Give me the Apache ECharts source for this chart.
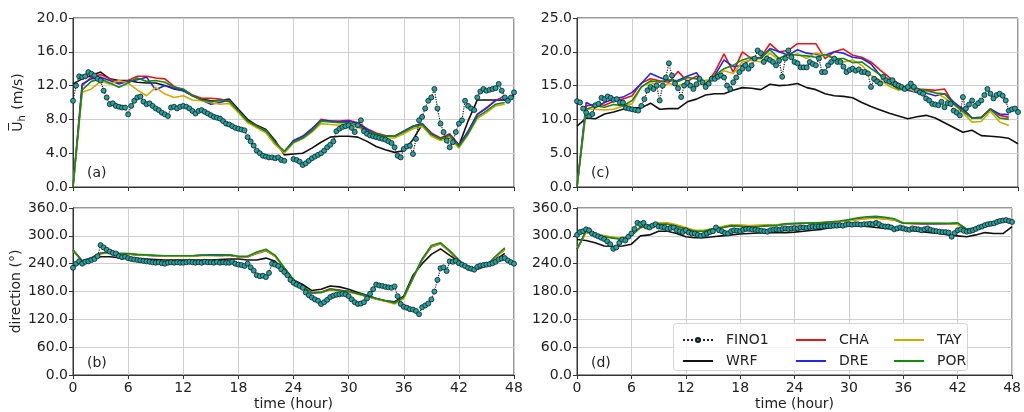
<!DOCTYPE html>
<html>
<head>
<meta charset="utf-8">
<script src="https://cdn.jsdelivr.net/npm/echarts@6/dist/echarts.min.js"></script>
<style>
  html, body { margin: 0; padding: 0; background: #fff; }
  #chart { width: 1024px; height: 412px; }
</style>
</head>
<body>
<div id="chart"></div>
<script>
// FINO1 measurements, every 20 min (3 per hour), 0..48 h
var finoSpeedA = [
  10.2, 12.0, 13.1,  13.0, 13.1, 13.6,  13.4, 13.2, 12.8,  12.6, 11.4, 10.6,
  9.8, 9.9, 9.6,  9.5, 9.4, 9.4,  8.6, 9.6, 10.2,  10.6, 10.7, 10.1,
  9.8, 9.9, 9.6,  9.3, 9.1, 8.8,  8.6, 8.4, 9.4,  9.5, 9.3, 9.5,
  9.6, 9.5, 9.3,  9.0, 8.7, 9.0,  9.1, 8.9, 8.7,  8.5, 8.3, 8.2,
  8.1, 7.8, 7.5,  7.4, 7.2, 7.0,  6.9, 6.8, 6.7,  5.9, 5.4, 4.9,
  4.3, 4.0, 3.7,  3.6, 3.5, 3.5,  3.4, 3.5, 3.2,  3.1, null, null,
  3.3, 3.2, 3.0,  2.6, 2.8, 3.1,  3.4, 3.6, 3.8,  4.0, 4.3, 4.7,
  5.0, 5.4, 6.6,  6.9, 7.1, 7.2,  7.3, 7.0, 6.5,  7.3, 7.9, 6.6,
  6.3, 6.1, 6.0,  5.9, 5.8, 5.7,  5.6, 5.4, 5.2,  4.7, 3.7, 3.5,
  4.5, 4.8, 4.9,  3.9, 5.7, 7.9,  8.3, 9.3, 10.2,  10.6, 11.6, 9.3,
  7.5, 6.5, 5.5,  4.7, 5.3, 6.5,  7.5, 7.9, 10.2,  9.6, 9.3, 9.1,
  10.6, 11.3, 11.6,  11.4, 11.5, 11.6,  11.7, 12.2, 11.4,  10.6, 10.2, 10.6,
  11.2
];
var finoDirB = [
  231, 240, 245,  240, 244, 245,  248, 250, 256,  280, 275, 270,
  266, 263, 262,  256, 254, 255,  252, 250, 249,  248, 247, 246,
  245, 244, 243,  242, 243, 241,  240, 242, 243,  242, 243, 242,
  242, 243, 244,  243, 242, 243,  242, 244, 243,  243, 242, 244,
  242, 243, 242,  242, 244, 240,  238, 237, 235,  240, 232, 225,
  215, 213, 214,  211, 220, 240,  238, 235, 228,  222, 215, 205,
  199, 195, 192,  188, 178, 172,  167, 163, 160,  153, 157, 162,
  168, 171, 173,  174, 175, 174,  170, 163, 157,  153, 154, 157,
  165, 175, 185,  195, 193, 192,  190, 189, 188,  191, 170, 153,
  147, 145, 142,  141, 138, 131,  146, 150, 154,  163, 180, 205,
  230, 232, 224,  245, 244, 246,  241, 238, 235,  231, 229, 227,
  233, 236, 237,  238, 239, 241,  244, 249, 251,  252, 247, 243,
  240
];
var finoSpeedC = [
  12.7, 12.5, 11.6,  11.0, 10.5, 10.8,  12.1, 12.3, 13.2,  13.0, 13.4, 13.2,
  12.9, 13.0, 12.5,  12.5, 11.7, 11.6,  11.5, 11.4, 11.3,  12.0, 13.0, 14.3,
  14.8, 14.5, 15.0,  12.8, 15.0, 16.2,  18.3, 16.5, 15.3,  14.6, 13.3, 15.0,
  15.4, 15.0, 14.5,  15.2, 16.0, 15.5,  14.8, 15.3, 16.0,  16.0, 16.3, 16.5,
  16.2, 15.0, 14.5,  15.5, 16.2, 17.0,  17.5, 18.0, 17.5,  18.0, 19.0, 20.2,
  19.8, 18.5, 19.0,  18.8, 18.5, 18.0,  18.7, 16.3, 19.0,  20.2, 19.2, 18.5,
  18.3, 17.7, 17.7,  17.7, 18.5, 18.2,  18.0, 19.0, 17.0,  17.0, 18.0, 18.5,
  19.0, 18.5, 18.5,  17.8, 17.0, 17.3,  17.5, 17.2, 17.4,  17.0, 17.0, 16.8,
  14.8, 16.0, 15.6,  15.3, 16.3, 15.8,  15.6, 15.8, 15.2,  15.0, 14.8, 14.5,
  14.8, 15.3, 14.8,  14.3, 14.0, 13.8,  13.1, 12.8, 12.3,  12.2, 12.1, 12.6,
  11.8, 12.4, 12.3,  11.3, 11.0, 10.6,  13.3, 11.6, 12.2,  12.8, 12.0, 12.4,
  12.8, 13.6, 14.5,  13.8, 13.1, 13.6,  13.8, 13.5, 12.8,  11.3, 11.5, 11.6,
  11.1
];
var finoDirD = [
  302, 308, 310,  314, 312, 305,  302, 299, 296,  293, 288, 282,
  272, 275, 285,  292, 290, 298,  305, 315, 328,  325, 328, 320,
  318, 322, 325,  320, 319, 318,  315, 317, 318,  312, 310, 308,
  312, 307, 305,  305, 302, 300,  302, 305, 308,  310, 318, 312,
  310, 306, 305,  310, 312, 311,  310, 313, 315,  315, 314, 313,
  312, 311, 310,  309, 312, 313,  314, 313, 315,  316, 315, 316,
  317, 316, 318,  318, 317, 319,  320, 319, 320,  320, 321, 321,
  321, 322, 322,  323, 322, 324,  325, 324, 325,  325, 324, 325,
  325, 326, 325,  328, 325, 321,  320, 320, 318,  314, 316, 318,
  316, 314, 313,  316, 315, 314,  312, 314, 316,  313, 311, 310,
  309, 308, 308,  307, 298, 306,  312, 314, 311,  309, 310, 312,
  315, 318, 320,  323, 325, 326,  327, 330, 332,  333, 334, 332,
  330
];

// model output, hourly from 0 h
var wrfA = [12.2,12.8,13.2,13.6,12.8,12.6,12.6,12.4,12.3,12.3,12.0,11.6,11.4,10.8,10.4,10.2,10.2,10.4,9.2,8.0,7.3,6.8,5.5,3.8,3.9,4.0,4.6,5.3,5.9,6.0,6.0,5.9,5.4,4.8,4.4,4.1,4.3,5.6,7.4,6.3,5.6,5.8,4.9,7.8,10.3,10.3,10.3,10.3,10.8];
var chaA = [0,12.0,13.0,13.3,12.8,12.3,12.6,13.1,13.1,12.9,12.8,11.9,11.5,10.9,10.5,10.5,10.4,10.1,8.9,7.8,7.2,6.6,5.2,4.2,5.4,6.0,6.8,8.0,7.8,7.8,7.9,7.6,6.9,6.4,6.1,6.0,6.6,7.2,7.5,6.4,5.8,6.3,5.0,6.5,8.6,9.4,10.2,10.8];
var dreA = [0,12.2,12.8,13.0,12.6,12.2,12.5,12.7,13.0,11.5,12.0,11.7,11.4,10.8,10.3,9.8,10.0,10.3,9.0,7.8,7.1,6.5,5.1,4.2,5.5,6.0,6.9,7.9,7.8,7.7,7.8,7.5,6.8,6.3,6.0,6.0,6.6,7.2,7.5,6.3,5.7,6.2,4.9,6.6,8.6,9.3,10.3,10.3];
var tayA = [0,11.2,11.6,12.5,12.2,12.6,12.3,11.5,10.8,11.8,11.0,10.6,10.8,10.3,10.2,10.0,9.8,9.9,8.8,7.6,7.0,6.4,5.0,4.0,5.2,5.7,6.5,7.5,7.4,7.3,7.4,7.1,6.4,6.1,5.8,5.8,6.3,6.9,7.2,6.0,5.5,5.9,4.6,6.2,8.1,8.8,9.6,9.8];
var porA = [0,11.5,12.5,12.8,12.3,11.8,12.3,12.9,12.5,12.6,12.4,11.8,11.6,10.8,10.3,10.1,10.3,10.2,9.0,7.8,7.2,6.7,5.3,4.2,5.3,5.8,6.6,7.8,7.7,7.6,7.6,7.3,6.6,6.3,6.0,6.0,6.5,7.1,7.4,6.2,5.7,6.1,4.8,6.3,8.3,9.0,9.8,10.0];

var wrfB = [232,245,250,255,255,253,252,251,250,249,248,248,248,248,248,248,249,250,250,248,248,252,245,225,205,195,182,185,192,190,185,178,172,165,160,158,170,215,240,260,272,258,245,232,228,235,248,262];
var chaB = [268,246,253,263,264,262,261,259,258,257,256,256,256,257,258,258,257,258,255,255,262,268,256,230,205,189,177,179,186,183,180,175,170,164,159,156,167,208,248,276,283,266,246,227,231,236,254,271];
var dreB = [269,246,252,262,265,262,261,259,258,257,257,256,257,257,258,259,259,259,255,255,263,269,257,230,205,190,177,178,184,182,180,175,170,165,160,156,168,209,249,277,284,267,247,228,231,235,255,272];
var tayB = [268,245,251,261,264,262,261,259,258,257,256,256,256,256,257,257,257,258,255,255,263,269,256,230,204,189,178,178,184,181,179,174,169,164,159,153,165,209,249,277,283,266,246,227,230,235,254,271];
var porB = [270,245,252,262,265,263,262,260,259,258,257,257,257,257,258,258,258,259,256,256,265,271,258,231,206,190,178,178,185,182,180,175,170,165,160,155,168,210,250,279,285,268,248,228,232,236,256,274];

var wrfC = [9.0,10.2,10.1,10.8,11.1,11.5,11.7,11.7,12.4,11.5,11.6,11.6,12.6,13.0,13.6,13.8,13.8,14.3,14.7,14.6,14.4,15.2,15.0,15.1,15.3,14.7,14.4,13.8,13.5,13.4,13.2,12.5,11.9,11.4,10.9,10.5,10.1,10.4,10.6,10.2,9.5,8.8,8.1,8.4,7.6,7.5,7.4,7.2,6.4];
var chaC = [0,12.0,12.2,12.1,12.7,13.0,13.5,15.4,16.0,15.7,15.5,17.1,15.6,16.4,15.2,17.0,19.7,17.0,20.0,19.0,19.2,21.2,20.0,20.2,21.2,21.2,21.2,19.0,20.0,20.4,19.5,19.2,18.5,17.3,16.2,15.3,14.5,14.5,14.4,14.3,14.5,12.3,11.6,10.2,10.3,11.6,10.6,10.3];
var dreC = [0,12.5,11.8,12.5,13.0,13.3,14.0,15.3,16.8,16.2,15.7,15.8,16.4,16.9,15.0,16.5,18.8,17.8,18.0,19.0,19.0,20.5,20.0,19.5,20.3,19.8,19.6,19.5,20.0,19.8,19.2,19.0,18.2,16.5,15.5,14.5,14.3,14.0,13.9,13.5,13.8,12.6,11.5,10.2,10.3,11.5,10.8,10.7];
var tayC = [0,11.5,11.5,11.4,11.5,12.0,12.3,14.8,15.5,14.8,15.3,15.0,15.4,14.8,15.8,16.0,17.2,16.8,18.5,18.8,18.5,19.8,18.7,19.2,19.7,19.0,19.8,19.5,19.0,18.5,18.8,18.0,16.5,15.8,14.9,14.3,14.6,14.0,14.2,14.0,13.2,12.2,11.0,9.6,9.7,11.2,9.6,9.1];
var porC = [0,11.5,12.0,11.8,12.2,12.0,12.8,14.8,15.7,15.5,15.9,15.6,16.2,16.0,15.3,16.5,17.5,18.0,18.8,19.2,19.0,20.3,19.0,19.7,19.5,19.4,19.2,19.6,19.0,19.0,18.4,18.5,17.5,16.6,15.3,14.5,14.8,14.4,14.3,13.9,13.8,12.3,11.2,10.2,10.2,11.5,10.2,10.0];

var wrfD = [292,290,285,278,277,278,282,300,302,310,310,305,298,296,296,298,300,302,304,305,306,307,307,307,308,310,312,314,318,321,323,322,320,318,316,315,313,311,309,307,305,302,300,298,302,307,305,305,320];
var chaD = [272,308,302,300,296,294,302,318,323,326,326,321,316,311,311,315,318,321,321,320,321,323,323,325,326,327,328,328,330,331,333,336,338,338,337,334,327,326,326,326,326,326,325,314,316,320,326,333];
var dreD = [271,309,301,299,296,293,301,319,322,326,326,321,316,311,310,315,319,322,321,319,320,322,323,325,326,327,327,328,329,331,333,336,338,339,337,335,327,327,326,326,326,326,326,315,316,320,326,333];
var tayD = [273,307,303,300,297,295,303,317,324,328,328,324,318,312,312,316,320,324,324,322,323,324,324,326,326,327,328,329,330,331,333,335,337,338,336,334,328,328,327,327,327,326,325,314,317,321,326,332];
var porD = [270,312,300,298,295,292,300,318,322,325,325,320,315,310,310,315,318,322,320,318,320,322,322,326,327,327,328,328,330,332,335,339,341,342,340,337,327,327,327,327,327,327,328,314,316,320,327,334];

var hourTicks = ['0', '6', '12', '18', '24', '30', '36', '42', '48'];
var panelLabels = ['(a)', '(b)', '(c)', '(d)'];

var colors = { FINO1: '#1fa3a3', WRF: '#111111', CHA: '#e8141a', DRE: '#2626e8', TAY: '#d2aa00', POR: '#138a13' };

function pairs(vals, step) {
    return vals.map(function (v, i) { return [i * step, v]; });
}

var myChart = echarts.init(document.getElementById('chart'));

var boxes = [
    { left: 73, top: 18 },
    { left: 73, top: 208 },
    { left: 577, top: 18 },
    { left: 577, top: 208 }
];
var grids = boxes.map(function (b) {
    return {
        left: b.left, top: b.top, width: 441, height: 169,
        show: true, borderColor: '#333', borderWidth: 1, backgroundColor: 'transparent'
    };
});

var fmt = function (v) { return v.toFixed(1); };
var labelStyle = { fontFamily: 'DejaVu Sans', fontSize: 14, color: '#222' };

var xAxes = [0, 1, 2, 3].map(function (i) {
    var bottom = (i === 1 || i === 3);
    return {
        type: 'value', gridIndex: i, min: 0, max: 48, interval: 6,
        name: bottom ? 'time (hour)' : '',
        nameLocation: 'middle', nameGap: 22,
        nameTextStyle: labelStyle,
        axisLine: { show: true, lineStyle: { color: '#333', width: 1 } },
        axisTick: { show: true, length: 4, lineStyle: { color: '#333' } },
        axisLabel: {
            show: bottom, margin: 6, fontFamily: 'DejaVu Sans', fontSize: 14, color: '#222',
            formatter: function (v) { return hourTicks[v / 6]; }
        },
        splitLine: { show: true, lineStyle: { color: '#cfcfcf', width: 1 } }
    };
});

var yRanges = [[20, 4], [360, 60], [25, 5], [360, 60]];
var yAxes = [0, 1, 2, 3].map(function (i) {
    var ax = {
        type: 'value', gridIndex: i, min: 0, max: yRanges[i][0], interval: yRanges[i][1],
        axisLine: { show: true, lineStyle: { color: '#333', width: 1 } },
        axisTick: { show: true, length: 4, lineStyle: { color: '#333' } },
        axisLabel: { margin: 5, fontFamily: 'DejaVu Sans', fontSize: 14, color: '#222', formatter: fmt },
        splitLine: { show: true, lineStyle: { color: '#cfcfcf', width: 1 } }
    };
    if (i === 0) {
        ax.name = '{u|U\u0305}{s|h}{u| (m/s)}';
        ax.nameLocation = 'middle';
        ax.nameGap = 46;
        ax.nameRotate = 90;
        ax.nameTextStyle = {
            fontFamily: 'DejaVu Sans', fontSize: 14, color: '#222',
            rich: {
                u: { fontFamily: 'DejaVu Sans', fontSize: 14, color: '#222', lineHeight: 18 },
                s: { fontFamily: 'DejaVu Sans', fontSize: 10, color: '#222', lineHeight: 8, verticalAlign: 'bottom', padding: [0, 1, 0, 0] }
            }
        };
    }
    if (i === 1) {
        ax.name = 'direction (\u00b0)';
        ax.nameLocation = 'middle';
        ax.nameGap = 50;
        ax.nameRotate = 90;
        ax.nameTextStyle = labelStyle;
    }
    return ax;
});

var panels = [
    { fino: finoSpeedA, wrf: wrfA, cha: chaA, dre: dreA, tay: tayA, por: porA },
    { fino: finoDirB, wrf: wrfB, cha: chaB, dre: dreB, tay: tayB, por: porB },
    { fino: finoSpeedC, wrf: wrfC, cha: chaC, dre: dreC, tay: tayC, por: porC },
    { fino: finoDirD, wrf: wrfD, cha: chaD, dre: dreD, tay: tayD, por: porD }
];

var series = [];
panels.forEach(function (p, i) {
    var models = [['WRF', p.wrf], ['CHA', p.cha], ['DRE', p.dre], ['TAY', p.tay], ['POR', p.por]];
    models.forEach(function (m) {
        series.push({
            name: m[0], type: 'line', xAxisIndex: i, yAxisIndex: i,
            data: pairs(m[1], 1), showSymbol: false, symbol: 'none',
            lineStyle: { color: colors[m[0]], width: 1.6 },
            itemStyle: { color: colors[m[0]] },
            z: 2
        });
    });
    series.push({
        name: 'FINO1', type: 'line', xAxisIndex: i, yAxisIndex: i,
        data: pairs(p.fino, 1 / 3),
        symbol: 'circle', symbolSize: 5, showAllSymbol: true,
        lineStyle: { color: '#222', width: 1.2, type: 'dotted' },
        itemStyle: { color: colors.FINO1, borderColor: '#1a1a1a', borderWidth: 0.8 },
        z: 3
    });
});

var hidden = { opacity: 0 };
var legendBase = {
    orient: 'vertical', top: 328, itemWidth: 30, itemHeight: 5, itemGap: 7,
    selectedMode: false, z: 6,
    textStyle: { fontFamily: 'DejaVu Sans', fontSize: 14, color: '#222', lineHeight: 14, padding: [0, 0, 0, 8] }
};
var legends = [
    Object.assign({}, legendBase, { left: 677, data: ['FINO1', { name: 'WRF', itemStyle: hidden }] }),
    Object.assign({}, legendBase, { left: 790, data: [{ name: 'CHA', itemStyle: hidden }, { name: 'DRE', itemStyle: hidden }] }),
    Object.assign({}, legendBase, { left: 888, data: [{ name: 'TAY', itemStyle: hidden }, { name: 'POR', itemStyle: hidden }] })
];

var labelPos = [[87, 166], [87, 356], [591, 166], [591, 356]];
var graphics = [{
    type: 'rect', left: 673, top: 323, z: 5,
    shape: { width: 294, height: 47, r: 3 },
    style: { fill: 'rgba(255,255,255,0.8)', stroke: '#d4d4d4', lineWidth: 1 }
}];
panelLabels.forEach(function (t, i) {
    graphics.push({
        type: 'text', left: labelPos[i][0], top: labelPos[i][1], z: 5,
        style: { text: t, fontFamily: 'DejaVu Sans', fontSize: 14, fill: '#222' }
    });
});

option = {
    backgroundColor: '#ffffff',
    animation: false,
    grid: grids,
    xAxis: xAxes,
    yAxis: yAxes,
    legend: legends,
    graphic: graphics,
    series: series
};
myChart.setOption(option);
</script>
</body>
</html>
